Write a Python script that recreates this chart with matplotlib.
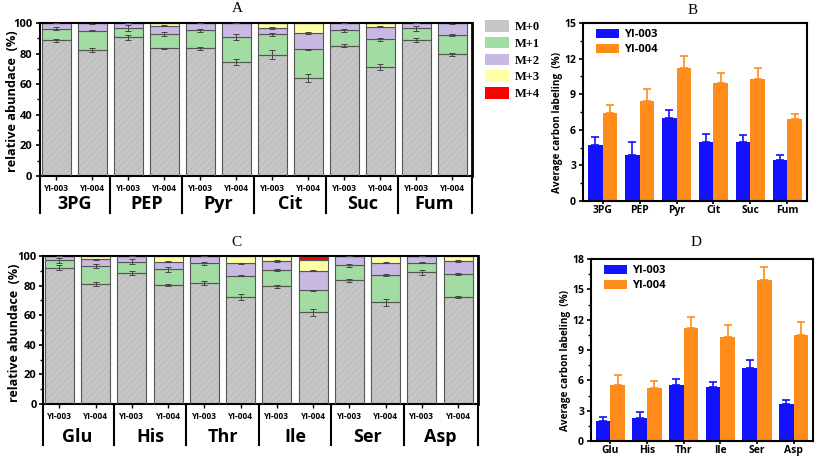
import numpy as np
import matplotlib
matplotlib.use("Agg")
import matplotlib.pyplot as plt
from matplotlib.patches import Patch
from matplotlib.transforms import blended_transform_factory

plt.rcParams['font.family'] = ['Open Sans', 'DejaVu Sans']
plt.rcParams['font.weight'] = 'bold'
plt.rcParams['axes.labelweight'] = 'bold'
plt.rcParams['hatch.linewidth'] = 0.5

# ---- data: panel A (organic acids) ----
groups_A = ['3PG', 'PEP', 'Pyr', 'Cit', 'Suc', 'Fum']
strains = ['YI-003', 'YI-004']
m0_A = [88.8, 82.3, 90.7, 83.4, 83.5, 74.7, 79.3, 64.0, 85.0, 71.5, 88.9, 79.5]
m1_A = [7.6, 12.7, 6.3, 9.4, 11.7, 15.9, 13.2, 18.8, 10.4, 17.8, 7.6, 12.7]
m2_A = [3.6, 5.0, 3.0, 5.5, 4.8, 9.4, 4.3, 10.7, 4.6, 8.3, 3.5, 7.8]
m3_A = [0.0, 0.0, 0.0, 1.7, 0.0, 0.0, 3.2, 6.5, 0.0, 2.4, 0.0, 0.0]
m4_A = [0.0] * 12
e0_A = [1.0, 1.5, 1.5, 0.5, 1.0, 2.0, 3.0, 2.5, 1.0, 2.0, 1.5, 1.0]
e1_A = [1.0, 0.5, 2.0, 1.5, 1.0, 2.0, 1.0, 0.5, 1.0, 1.0, 1.5, 0.5]
e2_A = [0.3, 0.4, 0.3, 0.5, 0.3, 0.3, 0.8, 0.5, 0.3, 0.5, 0.3, 0.4]

# ---- data: panel C (amino acids) ----
groups_C = ['Glu', 'His', 'Thr', 'Ile', 'Ser', 'Asp']
m0_C = [92.1, 80.9, 88.7, 80.4, 81.8, 72.0, 79.7, 62.0, 83.6, 68.7, 89.0, 72.3]
m1_C = [5.0, 12.3, 7.5, 10.6, 13.2, 14.7, 10.8, 14.8, 10.2, 18.5, 6.5, 15.5]
m2_C = [2.9, 4.6, 3.8, 5.2, 5.0, 8.3, 6.1, 13.3, 6.2, 8.3, 4.5, 8.8]
m3_C = [0.0, 2.2, 0.0, 3.8, 0.0, 5.0, 3.4, 7.2, 0.0, 4.5, 0.0, 3.4]
m4_C = [0.0, 0.0, 0.0, 0.0, 0.0, 0.0, 0.0, 2.7, 0.0, 0.0, 0.0, 0.0]
e0_C = [1.5, 1.5, 1.5, 1.0, 1.5, 2.0, 1.0, 2.5, 1.0, 2.5, 1.5, 1.0]
e1_C = [1.5, 1.5, 1.5, 1.5, 0.8, 0.5, 0.5, 0.5, 1.0, 0.5, 0.5, 0.8]
e2_C = [0.3, 0.4, 0.3, 0.4, 0.3, 0.4, 0.4, 0.4, 0.3, 0.4, 0.3, 0.4]

# ---- data: panel B / D (average carbon labeling) ----
avg_B_003 = [4.76, 3.86, 6.98, 4.95, 4.95, 3.49]
avg_B_004 = [7.40, 8.44, 11.2, 9.96, 10.3, 6.92]
err_B_003 = [0.67, 1.14, 0.70, 0.71, 0.57, 0.37]
err_B_004 = [0.73, 1.02, 1.04, 0.82, 0.87, 0.43]

avg_D_003 = [1.95, 2.28, 5.56, 5.39, 7.21, 3.64]
avg_D_004 = [5.53, 5.20, 11.15, 10.29, 15.92, 10.49]
err_D_003 = [0.40, 0.60, 0.53, 0.40, 0.79, 0.40]
err_D_004 = [0.96, 0.72, 1.09, 1.22, 1.28, 1.32]

iso_labels = ['M+0', 'M+1', 'M+2', 'M+3', 'M+4']
iso_colors = ['#c6c6c6', '#a3dca3', '#c8b9e2', '#ffffa6', '#ff0000']
blue = '#1212ff'
orange = '#ff8c1a'

W, H = 817, 457
fig = plt.figure(figsize=(W / 100, H / 100), dpi=100)


def px_axes(l, t, r, b):
    return fig.add_axes([l / W, 1 - b / H, (r - l) / W, (b - t) / H])


def stacked_panel(ax, groups, layers, errs, grp_y, div_y, ypad):
    x = np.arange(len(groups) * 2)
    bottom = np.zeros(len(x))
    for i, vals in enumerate(layers):
        vals = np.array(vals)
        if i == 0:
            ax.bar(x, vals, 0.8, color=iso_colors[0], edgecolor='#b6b6b6',
                   hatch='/////', linewidth=0, zorder=2)
            ax.bar(x, vals, 0.8, fill=False, edgecolor='#555555', linewidth=0.8, zorder=3)
        else:
            ax.bar(x, vals, 0.8, bottom=bottom, color=iso_colors[i],
                   edgecolor='#555555', linewidth=0.8, zorder=2)
        bottom = bottom + vals
    tops = np.cumsum(np.array(layers[:3]), axis=0)
    for k, e in enumerate(errs):
        ax.errorbar(x, tops[k], yerr=e, fmt='none', ecolor='#444444',
                    elinewidth=0.7, capsize=2, capthick=0.7, zorder=4)
    ax.set_xlim(-0.45, len(x) - 0.45)
    ax.set_ylim(0, 100)
    ax.set_yticks(np.arange(0, 101, 20))
    ax.set_yticks(np.arange(10, 100, 20), minor=True)
    ax.set_xticks(x)
    ax.set_xticklabels(strains * len(groups), fontsize=6)
    ax.tick_params(axis='x', length=3, width=1, pad=3)
    ax.tick_params(axis='y', labelsize=8, width=1.2, length=3, pad=ypad)
    ax.tick_params(axis='y', which='minor', length=2, width=1)
    for s in ax.spines.values():
        s.set_linewidth(1.5)
    ax.spines['right'].set_linewidth(2)
    tr = blended_transform_factory(ax.transData, ax.transAxes)
    divs = [-0.45] + [2 * g + 1.5 for g in range(len(groups) - 1)] + [len(x) - 0.45]
    for d in divs:
        ax.plot([d, d], [0, div_y], color='black', lw=1.5, transform=tr, clip_on=False)
    for g, name in enumerate(groups):
        ax.text(2 * g + 0.5, grp_y, name, transform=tr, ha='center', va='center',
                fontsize=13, fontweight='bold')


def avg_panel(ax, groups, v3, v4, e3, e4, ymax, ystep):
    x = np.arange(len(groups))
    ax.bar(x - 0.2, v3, 0.4, color=blue, label='YI-003', zorder=2)
    ax.bar(x + 0.2, v4, 0.4, color=orange, label='YI-004', zorder=2)
    ax.errorbar(x - 0.2, v3, yerr=[np.zeros(len(x)), e3], fmt='none', ecolor=blue,
                elinewidth=1.2, capsize=3, capthick=1.2, zorder=3)
    ax.errorbar(x + 0.2, v4, yerr=[np.zeros(len(x)), e4], fmt='none', ecolor=orange,
                elinewidth=1.2, capsize=3, capthick=1.2, zorder=3)
    ax.set_xlim(-0.53, len(x) - 0.47)
    ax.set_ylim(0, ymax)
    ax.set_yticks(np.arange(0, ymax + 0.1, ystep))
    ax.set_yticks(np.arange(ystep / 2, ymax, ystep), minor=True)
    ax.set_xticks(x)
    ax.set_xticklabels(groups, fontsize=7.5)
    ax.tick_params(axis='both', labelsize=7.5, width=1.2, length=3, pad=2)
    ax.tick_params(axis='x', length=2, pad=1)
    ax.tick_params(axis='y', which='minor', length=2, width=1)
    for s in ax.spines.values():
        s.set_linewidth(1.5)
    ax.legend(loc='upper left', bbox_to_anchor=(0.05, 0.98), frameon=False,
              fontsize=8, handlelength=2.0, handleheight=0.9, labelspacing=0.3,
              borderaxespad=0, borderpad=0.2, handletextpad=0.5)


# Panel A
axA = px_axes(40, 23, 472, 176)
stacked_panel(axA, groups_A, [m0_A, m1_A, m2_A, m3_A, m4_A], [e0_A, e1_A, e2_A],
              -0.18, -0.24, 2.5)
axA.set_ylabel('relative abundace  (%)', fontsize=9.2)
axA.yaxis.set_label_coords(-0.049, 0.49)
handles = [Patch(facecolor=c, edgecolor='none') for c in iso_colors]
axA.legend(handles, iso_labels, loc='upper left', bbox_to_anchor=(1.03, 1.02),
           frameon=False, prop={'family': 'Liberation Serif', 'weight': 'bold', 'size': 9},
           handlelength=1.9, handleheight=1.05, labelspacing=0.3, handletextpad=0.45,
           borderaxespad=0, borderpad=0)

# Panel C
axC = px_axes(43, 256, 478, 404)
stacked_panel(axC, groups_C, [m0_C, m1_C, m2_C, m3_C, m4_C], [e0_C, e1_C, e2_C],
              -0.22, -0.28, 1.5)
axC.set_ylabel('relative abundace  (%)', fontsize=9)
axC.yaxis.set_label_coords(-0.051, 0.48)

# Panel B and D
axB = px_axes(583, 23, 807, 201)
avg_panel(axB, groups_A, avg_B_003, avg_B_004, err_B_003, err_B_004, 15, 3)
axB.set_ylabel('Average carbon labeling  (%)', fontsize=7.2)
axB.yaxis.set_label_coords(-0.088, 0.44)
axD = px_axes(591, 259, 813, 441)
avg_panel(axD, groups_C, avg_D_003, avg_D_004, err_D_003, err_D_004, 18, 3)
axD.set_ylabel('Average carbon labeling  (%)', fontsize=7.2)
axD.yaxis.set_label_coords(-0.09, 0.445)

for lab, (px, py) in zip('ABCD', [(237, 9), (693, 10), (236, 243), (696, 243)]):
    fig.text(px / W, 1 - py / H, lab, ha='center', va='center', fontsize=11,
             family='Liberation Serif', fontweight='normal')

fig.savefig('out.png', dpi=100)
